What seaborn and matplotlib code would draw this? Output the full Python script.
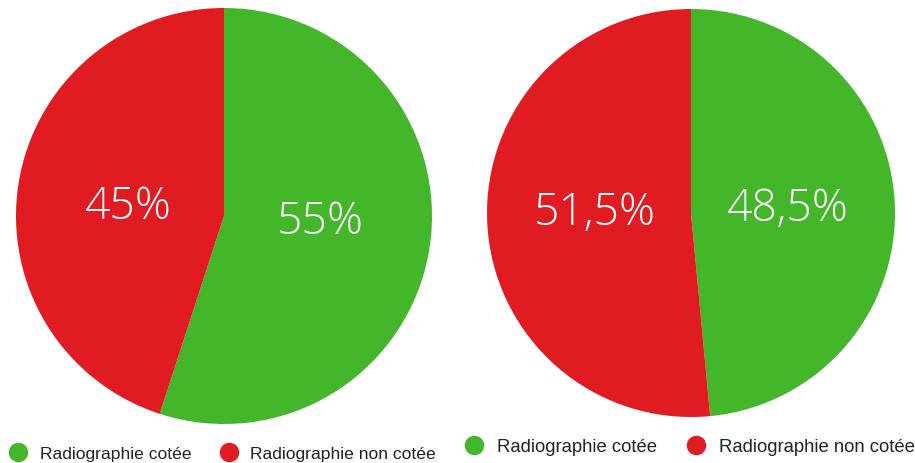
import matplotlib.pyplot as plt
import seaborn as sns
from matplotlib.lines import Line2D

# data
categories = ["Radiographie cotée", "Radiographie non cotée"]
left_values = [55, 45]
left_labels = ["55%", "45%"]
right_values = [48.5, 51.5]
right_labels = ["48,5%", "51,5%"]

GREEN = "#43B62A"
RED = "#E01B22"
colors = [GREEN, RED]

sns.set_theme(style="white")
plt.rcParams["font.family"] = ["Liberation Sans", "DejaVu Sans"]

fig = plt.figure(figsize=(9.15, 4.64), dpi=100)


def draw_pie(rect, values, labels):
    ax = fig.add_axes(rect)
    wedges, texts, autotexts = ax.pie(
        values,
        colors=colors,
        startangle=90,
        counterclock=False,
        autopct="%1.1f%%",
        pctdistance=0.47,
        wedgeprops=dict(linewidth=0),
    )
    for t, lab in zip(autotexts, labels):
        t.set_text(lab)
        t.set_color("white")
        t.set_fontsize(32)
        t.set_fontfamily(["Open Sans", "DejaVu Sans"])
        t.set_fontweight("light")
        # labels sit closer to the horizontal than the wedge middles
        x, y = t.get_position()
        t.set_position((x, y * 0.5 + 0.01))
    ax.set_xlim(-1, 1)
    ax.set_ylim(-1, 1)
    ax.set_aspect("equal")
    return ax


W, H = 915, 464
draw_pie([16 / W, (H - 425) / H, 416 / W, 416 / H], left_values, left_labels)
draw_pie([487 / W, (H - 418) / H, 408 / W, 408 / H], right_values, right_labels)


def add_legend(x_px, y_px, size, msize):
    handles = [
        Line2D([], [], linestyle="none", marker="o", markersize=msize,
               markerfacecolor=c, markeredgecolor=c)
        for c in colors
    ]
    fig.legend(
        handles, categories, loc="center left",
        bbox_to_anchor=(x_px / W, 1 - y_px / H),
        bbox_transform=fig.transFigure,
        ncol=2, frameon=False, fontsize=size,
        borderpad=0, borderaxespad=0,
        handlelength=1.0, handletextpad=0.75, columnspacing=1.6,
        labelcolor="#222222",
    )


add_legend(9.5, 454, 12.6, 13)
add_legend(465, 448, 13.3, 13)

fig.savefig("out.png", dpi=100)
